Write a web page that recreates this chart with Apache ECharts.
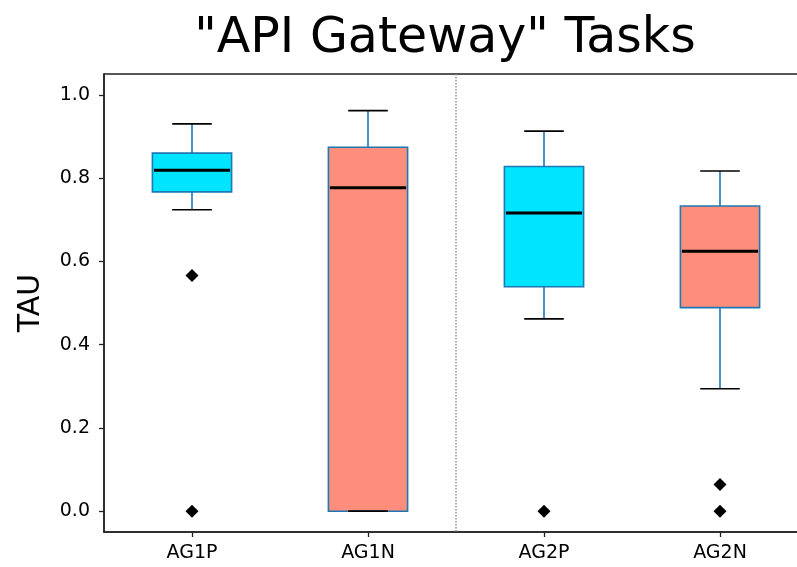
<!DOCTYPE html>
<html>
<head>
<meta charset="utf-8">
<script src="https://cdn.jsdelivr.net/npm/echarts@6/dist/echarts.min.js"></script>
<style>
html,body{margin:0;padding:0;background:#fff;overflow:hidden;}
#chart{width:797px;height:567px;}
</style>
</head>
<body>
<div id="chart"></div>
<script>
// ---- data ----
const categories = ['AG1P', 'AG1N', 'AG2P', 'AG2N'];
const whiskerLow  = [0.724, 0.000, 0.462, 0.294];
const q1          = [0.767, 0.000, 0.539, 0.489];
const medians     = [0.819, 0.777, 0.716, 0.624];
const q3          = [0.860, 0.874, 0.828, 0.733];
const whiskerHigh = [0.930, 0.962, 0.913, 0.817];
const outlierCats = ['AG1P', 'AG1P', 'AG2P', 'AG2N', 'AG2N'];
const outlierVals = [0.566, 0.000, 0.000, 0.064, 0.000];
const yTickValues = [0.0, 0.2, 0.4, 0.6, 0.8, 1.0];
const dividerAfter = 'AG1N';
const titleText = '"API Gateway" Tasks';
const yName = 'TAU';

// ---- styles ----
const boxFills = ['#00e5ff', '#fe8e7c', '#00e5ff', '#fe8e7c'];
const FONT = 'DejaVu Sans';
const yMin = -0.05, yMax = 1.05;

const boxData = categories.map((c, i) => [i, whiskerLow[i], q1[i], medians[i], q3[i], whiskerHigh[i]]);
const outlierData = outlierCats.map((c, i) => [c, outlierVals[i]]);
const dividerIdx = categories.indexOf(dividerAfter);

function renderBox(params, api) {
  const idx = api.value(0);
  const band = api.size([1, 0])[0];
  const half = band * 0.45 / 2;
  const capHalf = half / 2;
  const pWL = api.coord([idx, api.value(1)]);
  const pQ1 = api.coord([idx, api.value(2)]);
  const pMed = api.coord([idx, api.value(3)]);
  const pQ3 = api.coord([idx, api.value(4)]);
  const pWH = api.coord([idx, api.value(5)]);
  const x = pMed[0];
  const children = [];
  children.push({
    type: 'rect',
    shape: { x: x - half, y: pQ3[1], width: half * 2, height: pQ1[1] - pQ3[1] },
    style: { fill: boxFills[idx], stroke: '#1f77b4', lineWidth: 1.6 }
  });
  children.push({ type: 'line', shape: { x1: x, y1: pQ3[1], x2: x, y2: pWH[1] }, style: { stroke: '#1f77b4', lineWidth: 1.6 } });
  children.push({ type: 'line', shape: { x1: x, y1: pQ1[1], x2: x, y2: pWL[1] }, style: { stroke: '#1f77b4', lineWidth: 1.6 } });
  children.push({ type: 'line', shape: { x1: x - capHalf, y1: pWH[1], x2: x + capHalf, y2: pWH[1] }, style: { stroke: '#000', lineWidth: 1.7 } });
  children.push({ type: 'line', shape: { x1: x - capHalf, y1: pWL[1], x2: x + capHalf, y2: pWL[1] }, style: { stroke: '#000', lineWidth: 1.7 } });
  children.push({ type: 'line', shape: { x1: x - half + 1.5, y1: pMed[1], x2: x + half - 1.5, y2: pMed[1] }, style: { stroke: '#000', lineWidth: 3 } });
  if (idx === dividerIdx) {
    const top = api.coord([idx, yMax]);
    const bot = api.coord([idx, yMin]);
    const dx = x + band / 2;
    children.push({ type: 'line', shape: { x1: dx, y1: top[1], x2: dx, y2: bot[1] }, style: { stroke: '#888', lineWidth: 1.4, lineDash: [1.5, 1.5] } });
  }
  return { type: 'group', children };
}

const chart = echarts.init(document.getElementById('chart'), null, { renderer: 'canvas' });
chart.setOption({
  animation: false,
  backgroundColor: '#fff',
  title: {
    text: titleText,
    left: 440,
    textAlign: 'center',
    top: 10,
    textStyle: { fontFamily: FONT, fontSize: 49, fontWeight: 'normal', color: '#000' }
  },
  grid: {
    left: 104, top: 74, width: 704, bottom: 35,
    outerBoundsMode: 'none',
    containLabel: false,
    show: true, borderColor: '#222', borderWidth: 1.5, backgroundColor: 'transparent'
  },
  xAxis: {
    type: 'category',
    data: categories,
    boundaryGap: true,
    axisLine: { show: true, onZero: false, lineStyle: { color: '#222', width: 1.5 } },
    axisTick: { show: true, alignWithLabel: true, length: 5, lineStyle: { color: '#222', width: 1.3 } },
    axisLabel: { fontFamily: FONT, fontSize: 19, color: '#000', margin: 12 },
    splitLine: { show: false }
  },
  yAxis: {
    type: 'value',
    min: yMin, max: yMax,
    name: yName,
    nameLocation: 'middle',
    nameGap: 58,
    nameTextStyle: { fontFamily: FONT, fontSize: 30, color: '#000' },
    axisLine: { show: true, lineStyle: { color: '#222', width: 1.5 } },
    axisTick: { show: true, length: 5, customValues: yTickValues, lineStyle: { color: '#222', width: 1.3 } },
    axisLabel: { fontFamily: FONT, fontSize: 19, color: '#000', margin: 14, customValues: yTickValues,
      formatter: v => v.toFixed(1) },
    splitLine: { show: false }
  },
  series: [
    {
      type: 'custom',
      renderItem: renderBox,
      data: boxData,
      encode: { x: 0, y: [1, 2, 3, 4, 5] },
      clip: false,
      z: 2
    },
    {
      type: 'scatter',
      data: outlierData,
      symbol: 'diamond',
      symbolSize: 13,
      itemStyle: { color: '#000', opacity: 1 },
      z: 3
    }
  ]
});
</script>
</body>
</html>
